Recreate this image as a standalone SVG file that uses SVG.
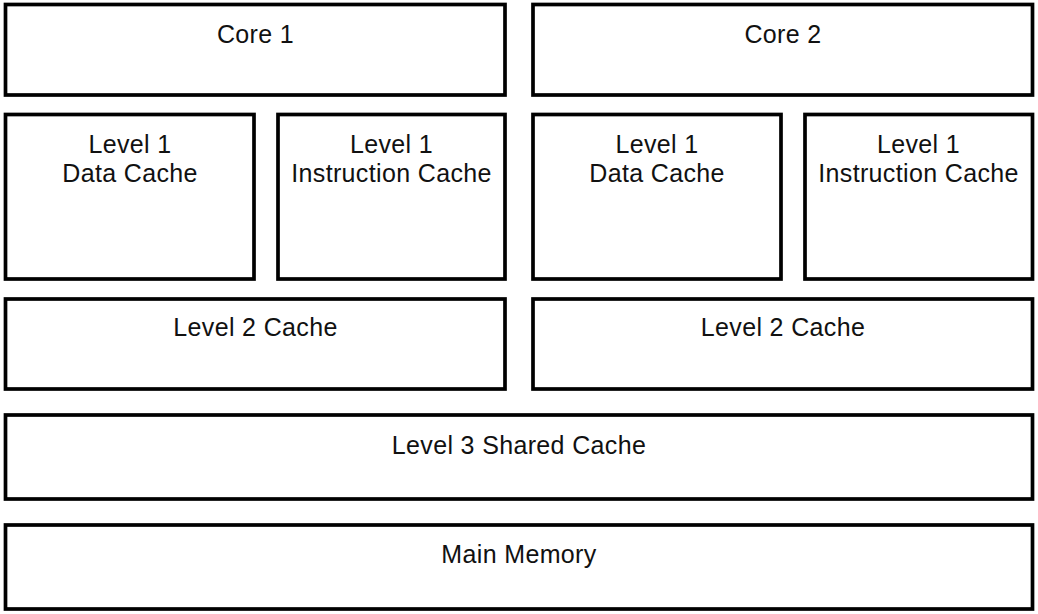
<svg xmlns="http://www.w3.org/2000/svg" width="1038" height="614" viewBox="0 0 1038 614">
<style>
rect{fill:#fff;stroke:#000;stroke-width:3.7}
text{font-family:"Liberation Sans",Arial,sans-serif;font-size:25px;letter-spacing:0.35px;fill:#111;text-anchor:middle}
</style>
<rect x="0" y="0" width="1038" height="614" style="stroke:none"/>
<g id="core1"><rect x="5.5" y="4.5" width="499.5" height="90.5"/><text x="255.5" y="43">Core 1</text></g>
<g id="core2"><rect x="533" y="4.5" width="499.5" height="90.5"/><text x="783" y="43">Core 2</text></g>
<g id="l1d-1"><rect x="5.5" y="114.5" width="248.5" height="164.5"/><text x="130" y="152.5">Level 1</text><text x="130" y="182">Data Cache</text></g>
<g id="l1i-1"><rect x="278" y="114.5" width="227" height="164.5"/><text x="391.5" y="152.5">Level 1</text><text x="391.5" y="182">Instruction Cache</text></g>
<g id="l1d-2"><rect x="533" y="114.5" width="248" height="164.5"/><text x="657" y="152.5">Level 1</text><text x="657" y="182">Data Cache</text></g>
<g id="l1i-2"><rect x="805" y="114.5" width="227.5" height="164.5"/><text x="918.5" y="152.5">Level 1</text><text x="918.5" y="182">Instruction Cache</text></g>
<g id="l2-1"><rect x="5.5" y="299" width="499.5" height="90"/><text x="255.5" y="336">Level 2 Cache</text></g>
<g id="l2-2"><rect x="533" y="299" width="499.5" height="90"/><text x="783" y="336">Level 2 Cache</text></g>
<g id="l3"><rect x="5.5" y="415" width="1027" height="84"/><text x="519" y="454">Level 3 Shared Cache</text></g>
<g id="mem"><rect x="5.5" y="525" width="1027" height="84"/><text x="519" y="563">Main Memory</text></g>
<g id="connectors"/>
</svg>
